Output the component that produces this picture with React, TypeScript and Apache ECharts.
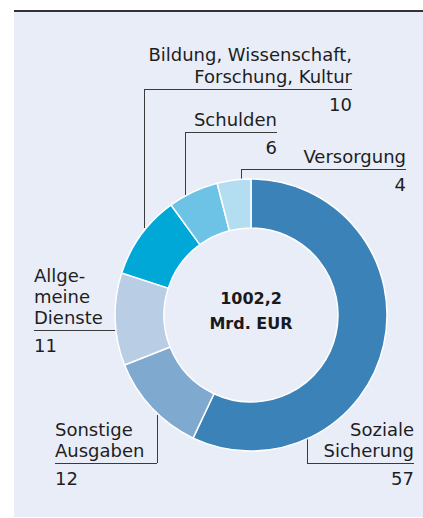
import React, { useEffect, useRef } from "react";
import * as echarts from "echarts";

const categories = [
  "Soziale Sicherung",
  "Sonstige Ausgaben",
  "Allgemeine Dienste",
  "Bildung, Wissenschaft, Forschung, Kultur",
  "Schulden",
  "Versorgung",
];
const labelLines = [
  ["Soziale", "Sicherung"],
  ["Sonstige", "Ausgaben"],
  ["Allge-", "meine", "Dienste"],
  ["Bildung, Wissenschaft,", "Forschung, Kultur"],
  ["Schulden"],
  ["Versorgung"],
];
const values = [57, 12, 11, 10, 6, 4];
const colors = ["#3a82b7", "#80a9d0", "#b9cde5", "#00a8d8", "#6cc3e6", "#b3ddf1"];
const totalLabel = ["1002,2", "Mrd. EUR"];

const FONT = "'DejaVu Sans', sans-serif";
const TEXT_COLOR = "#1e1e1e";
const LINE_COLOR = "#3a3a3a";

const layout: any[] = [
  { align: "right", x: 414, lineY: 463, x1: 307, x2: 414, lh: 21, leader: [[307, 463], [307, 437]] },
  { align: "left", x: 55, lineY: 463, x1: 55, x2: 157, lh: 21, leader: [[157, 463], [157, 415]] },
  { align: "left", x: 34, lineY: 330, x1: 34, x2: 116, lh: 21, leader: [] },
  { align: "right", x: 352, lineY: 89, x1: 144, x2: 352, lh: 22, leader: [[144, 89], [144, 228]] },
  { align: "right", x: 277, lineY: 132, x1: 185, x2: 277, lh: 22, leader: [[185, 132], [185, 195]] },
  { align: "right", x: 406, lineY: 169, x1: 241, x2: 406, lh: 22, leader: [[241, 169], [241, 180]] },
];

export default function App() {
  const ref = useRef<HTMLDivElement>(null);
  useEffect(() => {
    const chart = echarts.init(ref.current!, null, { renderer: "svg" });
    const graphics: any[] = [
      { type: "rect", shape: { x: 14, y: 10, width: 409, height: 507 }, style: { fill: "#e9edf8" }, z: -10 },
      { type: "rect", shape: { x: 14, y: 10, width: 409, height: 2 }, style: { fill: "#333333" }, z: -9 },
    ];
    layout.forEach((l, i) => {
      const lines = labelLines[i];
      const n = lines.length;
      lines.forEach((t, j) => {
        graphics.push({
          type: "text",
          x: l.x,
          y: l.lineY - 4 - (n - 1 - j) * l.lh,
          style: { text: t, fill: TEXT_COLOR, font: `18px ${FONT}`, align: l.align, verticalAlign: "bottom" },
        });
      });
      graphics.push({
        type: "text",
        x: l.x,
        y: l.lineY + 24,
        style: { text: String(values[i]), fill: TEXT_COLOR, font: `18px ${FONT}`, align: l.align, verticalAlign: "bottom" },
      });
      graphics.push({
        type: "line",
        shape: { x1: l.x1, y1: l.lineY + 0.5, x2: l.x2, y2: l.lineY + 0.5 },
        style: { stroke: LINE_COLOR, lineWidth: 1 },
      });
      if (l.leader.length) {
        graphics.push({
          type: "polyline",
          shape: { points: l.leader.map((p: number[]) => [p[0] + 0.5, p[1]]) },
          style: { stroke: LINE_COLOR, lineWidth: 1, fill: null },
        });
      }
    });
    graphics.push(
      { type: "text", x: 251, y: 298, style: { text: totalLabel[0], fill: "#1a1a1a", font: `bold 16px ${FONT}`, align: "center", verticalAlign: "middle" } },
      { type: "text", x: 251, y: 323, style: { text: totalLabel[1], fill: "#1a1a1a", font: `bold 16px ${FONT}`, align: "center", verticalAlign: "middle" } }
    );

    chart.setOption({
      animation: false,
      backgroundColor: "#ffffff",
      graphic: graphics,
      series: [
        {
          type: "pie",
          center: [251, 315],
          radius: [87, 136],
          startAngle: 90,
          clockwise: true,
          label: { show: false },
          labelLine: { show: false },
          emphasis: { disabled: true },
          itemStyle: { borderColor: "#ffffff", borderWidth: 1.5 },
          data: categories.map((c, i) => ({ name: c, value: values[i], itemStyle: { color: colors[i] } })),
          z: 5,
        },
      ],
    });
    return () => chart.dispose();
  }, []);
  return <div ref={ref} style={{ position: "absolute", left: 0, top: 0, width: 423, height: 518 }} />;
}
